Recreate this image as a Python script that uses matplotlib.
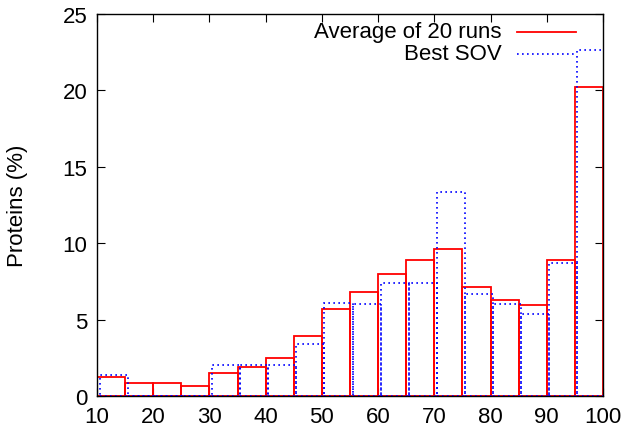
import numpy as np
import matplotlib
matplotlib.use("Agg")
import matplotlib.pyplot as plt

plt.rcParams["font.family"] = ["Liberation Sans", "DejaVu Sans"]

# bin starts (percent SOV), each bin 5 wide
bin_starts = [10, 15, 20, 25, 30, 35, 40, 45, 50, 55, 60, 65, 70, 75, 80, 85, 90, 95]
avg_runs = [1.26, 0.87, 0.87, 0.65, 1.48, 1.87, 2.46, 3.9, 5.71, 6.78,
            7.98, 8.87, 9.6, 7.11, 6.3, 5.93, 8.88, 20.24]
best_sov = [1.37, 0.0, 0.0, 0.0, 2.05, 2.05, 2.04, 3.38, 6.06, 6.04,
            7.37, 7.37, 13.37, 6.7, 6.04, 5.37, 8.68, 22.66]
bin_width = 5
blue_shift = 0.45
fs = 16

fig = plt.figure(figsize=(6.26, 4.31), dpi=100)
ax = fig.add_axes([97 / 626, 1 - 397 / 431, (603 - 97) / 626, (397 - 15) / 431])

x = np.array(bin_starts, dtype=float)
ax.bar(x, avg_runs, width=bin_width, align="edge", fill=False,
       edgecolor="#ff0000", linewidth=1.3, zorder=2)
ax.bar(x + blue_shift, best_sov, width=bin_width, align="edge", fill=False,
       edgecolor="#0000ff", linewidth=1.2, linestyle=(0, (1, 2)), zorder=3)

ax.set_xlim(10, 100)
ax.set_ylim(0, 25)
ax.set_xticks(range(10, 101, 10))
ax.set_yticks(range(0, 26, 5))
ax.tick_params(direction="in", top=True, right=True, length=6, width=0.8,
               labelsize=fs, pad=7)
for s in ax.spines.values():
    s.set_linewidth(1.0)

fig.text(18 / 626, 1 - 206 / 431, "Proteins (%)", rotation=90,
         ha="center", va="center", fontsize=fs)

# gnuplot style key, text right aligned with sample line after it
tr = ax.transAxes
def ax_xy(px, py):
    return ((px - 97) / (603 - 97), (397 - py) / (397 - 15))

tx, ty = ax_xy(502, 33)
ax.text(tx, ty, "Average of 20 runs", transform=tr, ha="right", va="center", fontsize=fs)
l0, _ = ax_xy(517, 0)
l1, _ = ax_xy(576, 0)
ax.plot([l0, l1], [ty, ty], color="#ff0000", linewidth=1.3, transform=tr, clip_on=False)
tx, ty = ax_xy(502, 55)
ax.text(tx, ty, "Best SOV", transform=tr, ha="right", va="center", fontsize=fs)
ax.plot([l0, l1], [ty, ty], color="#0000ff", linewidth=1.2, linestyle=(0, (1, 2)),
        transform=tr, clip_on=False)

fig.savefig("out.png", dpi=100)
